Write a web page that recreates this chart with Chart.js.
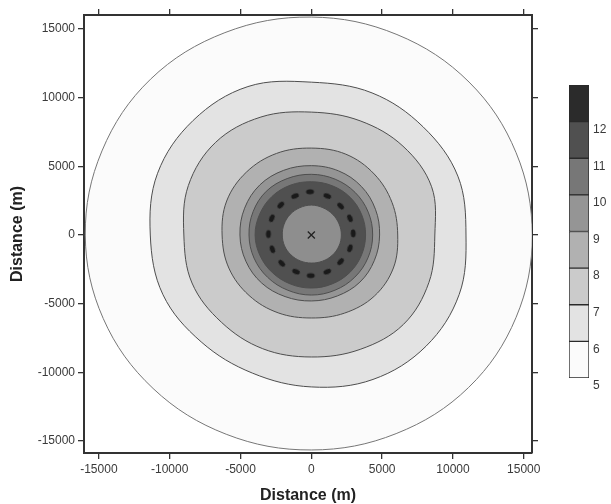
<!DOCTYPE html>
<html>
<head>
<meta charset="utf-8">
<script src="https://cdn.jsdelivr.net/npm/chart.js@4.4.0/dist/chart.umd.min.js"></script>
<style>
  html, body { margin: 0; padding: 0; background: #fff; }
  #wrap { position: relative; width: 611px; height: 504px; }
  #plot { position: absolute; left: 0; top: 0; }
  #bar { position: absolute; left: 555px; top: 70px; }
</style>
</head>
<body>
<div id="wrap">
  <canvas id="plot" width="611" height="504"></canvas>
  <canvas id="bar" width="56" height="330"></canvas>
</div>
<script>
// directions (deg, counter-clockwise from east) where the contour radii were read
angles = [0, 22.5, 45, 67.5, 90, 112.5, 135, 157.5, 180, 202.5, 225, 247.5, 270, 292.5, 315, 337.5];

// contour radii in metres, one value per direction
r5 = [15600, 15650, 15750, 15800, 15870, 15950, 16050, 16000, 15960, 15900, 15800, 15700, 15650, 15650, 15700, 15650];
r6 = [10920, 11200, 11150, 11200, 11130, 11700, 11800, 11750, 11370, 11340, 11000, 10880, 11060, 11380, 11450, 11300];
r7 = [8720, 9190, 9150, 9000, 8950, 9300, 9550, 9400, 9000, 9120, 8980, 8960, 8880, 9010, 9200, 8990];
r8 = [6100, 6170, 6280, 6370, 6330, 6430, 6480, 6470, 6300, 6300, 6220, 6130, 6040, 6150, 6290, 6270];
r9 = [4820, 4900, 5000, 5050, 5050, 5100, 5150, 5100, 5040, 5000, 4950, 4850, 4800, 4800, 4850, 4820];
r10 = [4330, 4350, 4380, 4400, 4420, 4450, 4500, 4450, 4400, 4380, 4360, 4350, 4370, 4350, 4340, 4330];
r11 = [3830, 3850, 3880, 3880, 3880, 3920, 3950, 3950, 3970, 3920, 3880, 3860, 3860, 3850, 3850, 3830];
rCore = [2120, 2120, 2130, 2150, 2180, 2150, 2120, 2080, 2050, 2050, 2040, 2040, 2040, 2060, 2090, 2110];

// small level-12 patches on the ring (m)
dotX = [-90, 1130, 2070, 2730, 2960, 2730, 2070, 1130, -40, -1080, -2090, -2750, -3030, -2790, -2160, -1150];
dotY = [3150, 2840, 2110, 1220, 120, -970, -1940, -2670, -2960, -2670, -2060, -1040, 70, 1220, 2180, 2840];

xTicks = [-15000, -10000, -5000, 0, 5000, 10000, 15000];
yTicks = [-15000, -10000, -5000, 0, 5000, 10000, 15000];

// colour bar levels
cbLevels = [5, 6, 7, 8, 9, 10, 11, 12];

bandColors = ["#fbfbfb", "#e3e3e3", "#cbcbcb", "#b1b1b1", "#959595", "#777777", "#505050", "#2b2b2b"];

Chart.defaults.font.family = 'Arial, "Liberation Sans", sans-serif';
Chart.defaults.color = "#3a3a3a";

function ring(radii) {
  let pts = [];
  for (let i = 0; i < angles.length; i++) {
    let a = (angles[i] * Math.PI) / 180;
    pts.push({ x: radii[i] * Math.cos(a), y: radii[i] * Math.sin(a) });
  }
  return pts;
}

// make the smoothed contour lines close on themselves
closeLoop = {
  id: "closeLoop",
  afterDatasetUpdate(chart, args) {
    if (!chart.data.datasets[args.index].closed) return;
    let line = args.meta.dataset;
    line._loop = true;
    line._fullLoop = true;
    line._pointsUpdated = false;
    delete line._segments;
    delete line._path;
  },
};

contours = [r5, r6, r7, r8, r9, r10, r11, rCore];
fills = [bandColors[0], bandColors[1], bandColors[2], bandColors[3], bandColors[4], bandColors[5], bandColors[6], "#8e8e8e"];

datasets = [];
for (let i = 0; i < contours.length; i++) {
  datasets.push({
    data: ring(contours[i]),
    closed: true,
    showLine: true,
    fill: "shape",
    backgroundColor: fills[i],
    borderColor: i == 0 ? "#767676" : "#4e4e4e",
    borderWidth: 1,
    tension: 0.36,
    pointRadius: 0,
    order: 100 - i,
    xAxisID: "x",
    yAxisID: "y",
  });
}

// elongated blob used for the ring patches
blob = document.createElement("canvas");
blob.width = 9;
blob.height = 6;
bctx = blob.getContext("2d");
bctx.fillStyle = "#1a1a1a";
bctx.beginPath();
bctx.ellipse(4.5, 3, 4, 2.5, 0, 0, Math.PI * 2);
bctx.fill();

dots = [];
for (let i = 0; i < dotX.length; i++) dots.push({ x: dotX[i], y: dotY[i] });

datasets.push({
  data: dots,
  pointStyle: blob,
  rotation: (ctx) => {
    let p = dots[ctx.dataIndex];
    return p ? 90 - (Math.atan2(p.y, p.x) * 180) / Math.PI : 0;
  },
  order: 1,
  xAxisID: "x",
  yAxisID: "y",
});

datasets.push({
  data: [{ x: 0, y: 0 }],
  pointStyle: "crossRot",
  pointRadius: 5,
  borderColor: "#222",
  pointBorderWidth: 1.3,
  order: 0,
  xAxisID: "x",
  yAxisID: "y",
});

function edgeGrid() {
  return { drawOnChartArea: false, drawTicks: true, tickLength: 6, color: "#333", lineWidth: 1.3 };
}
function edgeBorder() {
  return { display: true, color: "#333", width: 2 };
}
tickFont = { size: 12 };
titleFont = { size: 16, weight: "bold", lineHeight: 1 };

config = {
  type: "scatter",
  data: { datasets: datasets },
  options: {
    responsive: false,
    animation: false,
    events: [],
    layout: { padding: 0 },
    plugins: { legend: { display: false }, tooltip: { enabled: false } },
    scales: {
      x: {
        type: "linear",
        position: "bottom",
        min: -16050,
        max: 15580,
        afterBuildTicks: (s) => { s.ticks = xTicks.map((v) => ({ value: v })); },
        afterFit: (s) => { s.height = 51; },
        grid: edgeGrid(),
        border: edgeBorder(),
        ticks: { font: tickFont, padding: 3, maxRotation: 0, callback: (v) => String(v) },
        title: { display: true, text: "Distance (m)", color: "#222", font: titleFont, padding: { top: 0, bottom: 0 } },
      },
      x2: {
        type: "linear",
        position: "top",
        min: -16050,
        max: 15580,
        afterBuildTicks: (s) => { s.ticks = xTicks.map((v) => ({ value: v })); },
        afterFit: (s) => { s.height = 15; },
        grid: edgeGrid(),
        border: edgeBorder(),
        ticks: { display: false },
      },
      y: {
        type: "linear",
        position: "left",
        min: -15870,
        max: 16020,
        afterBuildTicks: (s) => { s.ticks = yTicks.map((v) => ({ value: v })); },
        afterFit: (s) => { s.width = 84; },
        grid: edgeGrid(),
        border: edgeBorder(),
        ticks: { font: tickFont, padding: 3, callback: (v) => String(v) },
        title: { display: true, text: "Distance (m)", color: "#222", font: titleFont, padding: { top: 10, bottom: 0 } },
      },
      y2: {
        type: "linear",
        position: "right",
        min: -15870,
        max: 16020,
        afterBuildTicks: (s) => { s.ticks = yTicks.map((v) => ({ value: v })); },
        afterFit: (s) => { s.width = 79; },
        grid: edgeGrid(),
        border: edgeBorder(),
        ticks: { display: false },
      },
    },
  },
  plugins: [closeLoop],
};
myChart = new Chart(document.getElementById("plot"), config);

// colour bar
barSets = [];
for (let i = 0; i < cbLevels.length; i++) {
  barSets.push({
    data: [[cbLevels[i], cbLevels[i] + 1]],
    backgroundColor: bandColors[i],
    borderColor: "#2a2a2a",
    borderWidth: 1,
    borderSkipped: false,
    grouped: false,
    barPercentage: 1,
    categoryPercentage: 1,
  });
}
barChart = new Chart(document.getElementById("bar"), {
  type: "bar",
  data: { labels: [""], datasets: barSets },
  options: {
    responsive: false,
    animation: false,
    events: [],
    layout: { padding: { left: 14, top: 15, bottom: 22, right: 0 } },
    plugins: { legend: { display: false }, tooltip: { enabled: false } },
    scales: {
      x: { display: false },
      y: {
        position: "right",
        min: 5,
        max: 13,
        afterBuildTicks: (s) => { s.ticks = cbLevels.map((v) => ({ value: v })); },
        afterFit: (s) => { s.width = 22; },
        grid: { display: false, drawTicks: false },
        border: { display: false },
        ticks: { font: { size: 12 }, padding: 4, labelOffset: 8 },
      },
    },
  },
});
</script>
</body>
</html>
